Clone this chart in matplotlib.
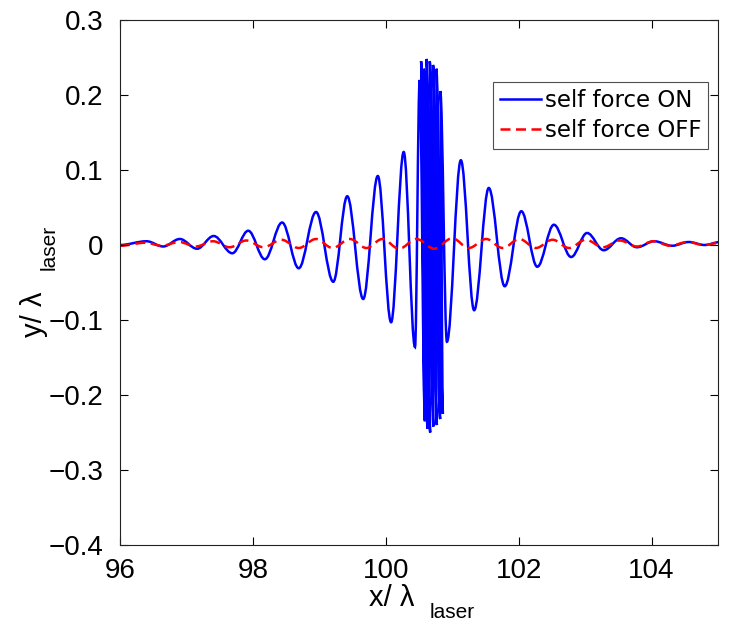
import numpy as np
import matplotlib.pyplot as plt
from matplotlib.path import Path
from matplotlib.patches import PathPatch
from matplotlib.lines import Line2D

plt.rcParams['font.family'] = 'Liberation Sans'

# extrema of the trajectories (x, y in laser wavelengths)
on_x = [96.00, 96.40, 96.65, 96.90, 97.16, 97.41, 97.69, 97.93, 98.18, 98.44,
        98.69, 98.95, 99.21, 99.42, 99.66, 99.88, 100.08, 100.27, 100.44,
        100.51, 100.59, 100.53, 100.63, 100.57, 100.67, 100.61, 100.72,
        100.66, 100.77, 100.71, 100.82, 100.76, 100.86, 100.82,
        100.92, 101.13, 101.33, 101.55, 101.79, 102.04, 102.28, 102.53,
        102.79, 103.03, 103.28, 103.54, 103.78, 104.04, 104.31, 104.56,
        104.80, 105.03]
on_y = [0.000, 0.005, -0.002, 0.008, -0.005, 0.012, -0.011, 0.019, -0.019, 0.030,
        -0.031, 0.044, -0.049, 0.065, -0.072, 0.092, -0.103, 0.124, -0.136,
        0.220, -0.235, 0.245, -0.245, 0.235, -0.250, 0.248, -0.242,
        0.245, -0.240, 0.240, -0.232, 0.235, -0.225, 0.205,
        -0.129, 0.113, -0.087, 0.076, -0.055, 0.045, -0.029, 0.027,
        -0.016, 0.016, -0.007, 0.009, -0.003, 0.005, -0.001, 0.004,
        0.000, 0.004]

off_x = [96.00, 96.38, 96.63, 96.89, 97.14, 97.40, 97.65, 97.90, 98.16, 98.43,
         98.69, 98.95, 99.20, 99.46, 99.71, 99.95, 100.20, 100.46, 100.73,
         101.00, 101.25, 101.51, 101.76, 102.01, 102.26, 102.51, 102.76,
         103.01, 103.27, 103.52, 103.78, 104.03, 104.28, 104.54, 104.79,
         105.03]
off_y = [-0.001, 0.003, -0.001, 0.004, -0.002, 0.005, -0.003, 0.006, -0.003, 0.007,
         -0.004, 0.008, -0.004, 0.008, -0.004, 0.008, -0.005, 0.008, -0.005,
         0.009, -0.004, 0.008, -0.004, 0.008, -0.004, 0.007, -0.004,
         0.007, -0.003, 0.006, -0.002, 0.005, -0.001, 0.004, 0.000,
         0.003]

xticks = [96, 98, 100, 102, 104]
yticks = [-0.4, -0.3, -0.2, -0.1, 0, 0.1, 0.2, 0.3]
ytick_labels = ['\u22120.4', '\u22120.3', '\u22120.2', '\u22120.1', '0', '0.1', '0.2', '0.3']


def smooth_path(xs, ys, k=0.36):
    # cubic bezier pieces with flat tangents at each extremum
    verts = [(xs[0], ys[0])]
    codes = [Path.MOVETO]
    for i in range(1, len(xs)):
        dx = xs[i] - xs[i-1]
        verts += [(xs[i-1] + k*dx, ys[i-1]), (xs[i] - k*dx, ys[i]), (xs[i], ys[i])]
        codes += [Path.CURVE4]*3
    return Path(verts, codes)


W, H = 731, 628
fig = plt.figure(figsize=(W/100, H/100), dpi=100)
ax = fig.add_axes([120/W, 1-545/H, 598/W, 525/H])

ax.add_patch(PathPatch(smooth_path(on_x, on_y), fill=False, edgecolor='#0000ff', lw=1.8))
ax.add_patch(PathPatch(smooth_path(off_x, off_y), fill=False, edgecolor='#ff0000',
                       lw=1.8, linestyle=(0, (4, 2.2))))

ax.set_xlim(96, 105)
ax.set_ylim(-0.4, 0.3)
ax.set_xticks(xticks)
ax.set_yticks(yticks)
ax.set_yticklabels(ytick_labels)
ax.tick_params(direction='in', top=True, right=True, length=6, width=0.8,
               labelsize=20, colors='black')
ax.tick_params(axis='y', pad=12)
ax.tick_params(axis='x', pad=9)
for s in ax.spines.values():
    s.set_linewidth(0.8)
    s.set_color('#222222')

# axis labels, MATLAB style with a dropped subscript
fig.text(392/W, 1-598/H, 'x/ \u03bb', fontsize=21, ha='center', va='center')
fig.text(430/W, 1-612/H, 'laser', fontsize=15, ha='left', va='center')
fig.text(34/W, 1-314/H, 'y/ \u03bb', fontsize=21, ha='center', va='center', rotation=90)
fig.text(49/W, 1-270/H, 'laser', fontsize=15, ha='center', va='bottom', rotation=90)

handles = [Line2D([], [], color='#0000ff', lw=1.8),
           Line2D([], [], color='#ff0000', lw=1.8, linestyle=(0, (4, 2.2)))]
leg = ax.legend(handles, ['self force ON', 'self force OFF'], loc='upper right',
                bbox_to_anchor=(588/598, 463/525), frameon=True,
                prop={'family': 'DejaVu Sans', 'size': 16.5},
                fancybox=False, edgecolor='#222222', handlelength=1.8,
                handletextpad=0.15, borderpad=0.3, labelspacing=0.3, borderaxespad=0)
leg.get_frame().set_linewidth(0.8)

fig.savefig('out.png', dpi=100)
